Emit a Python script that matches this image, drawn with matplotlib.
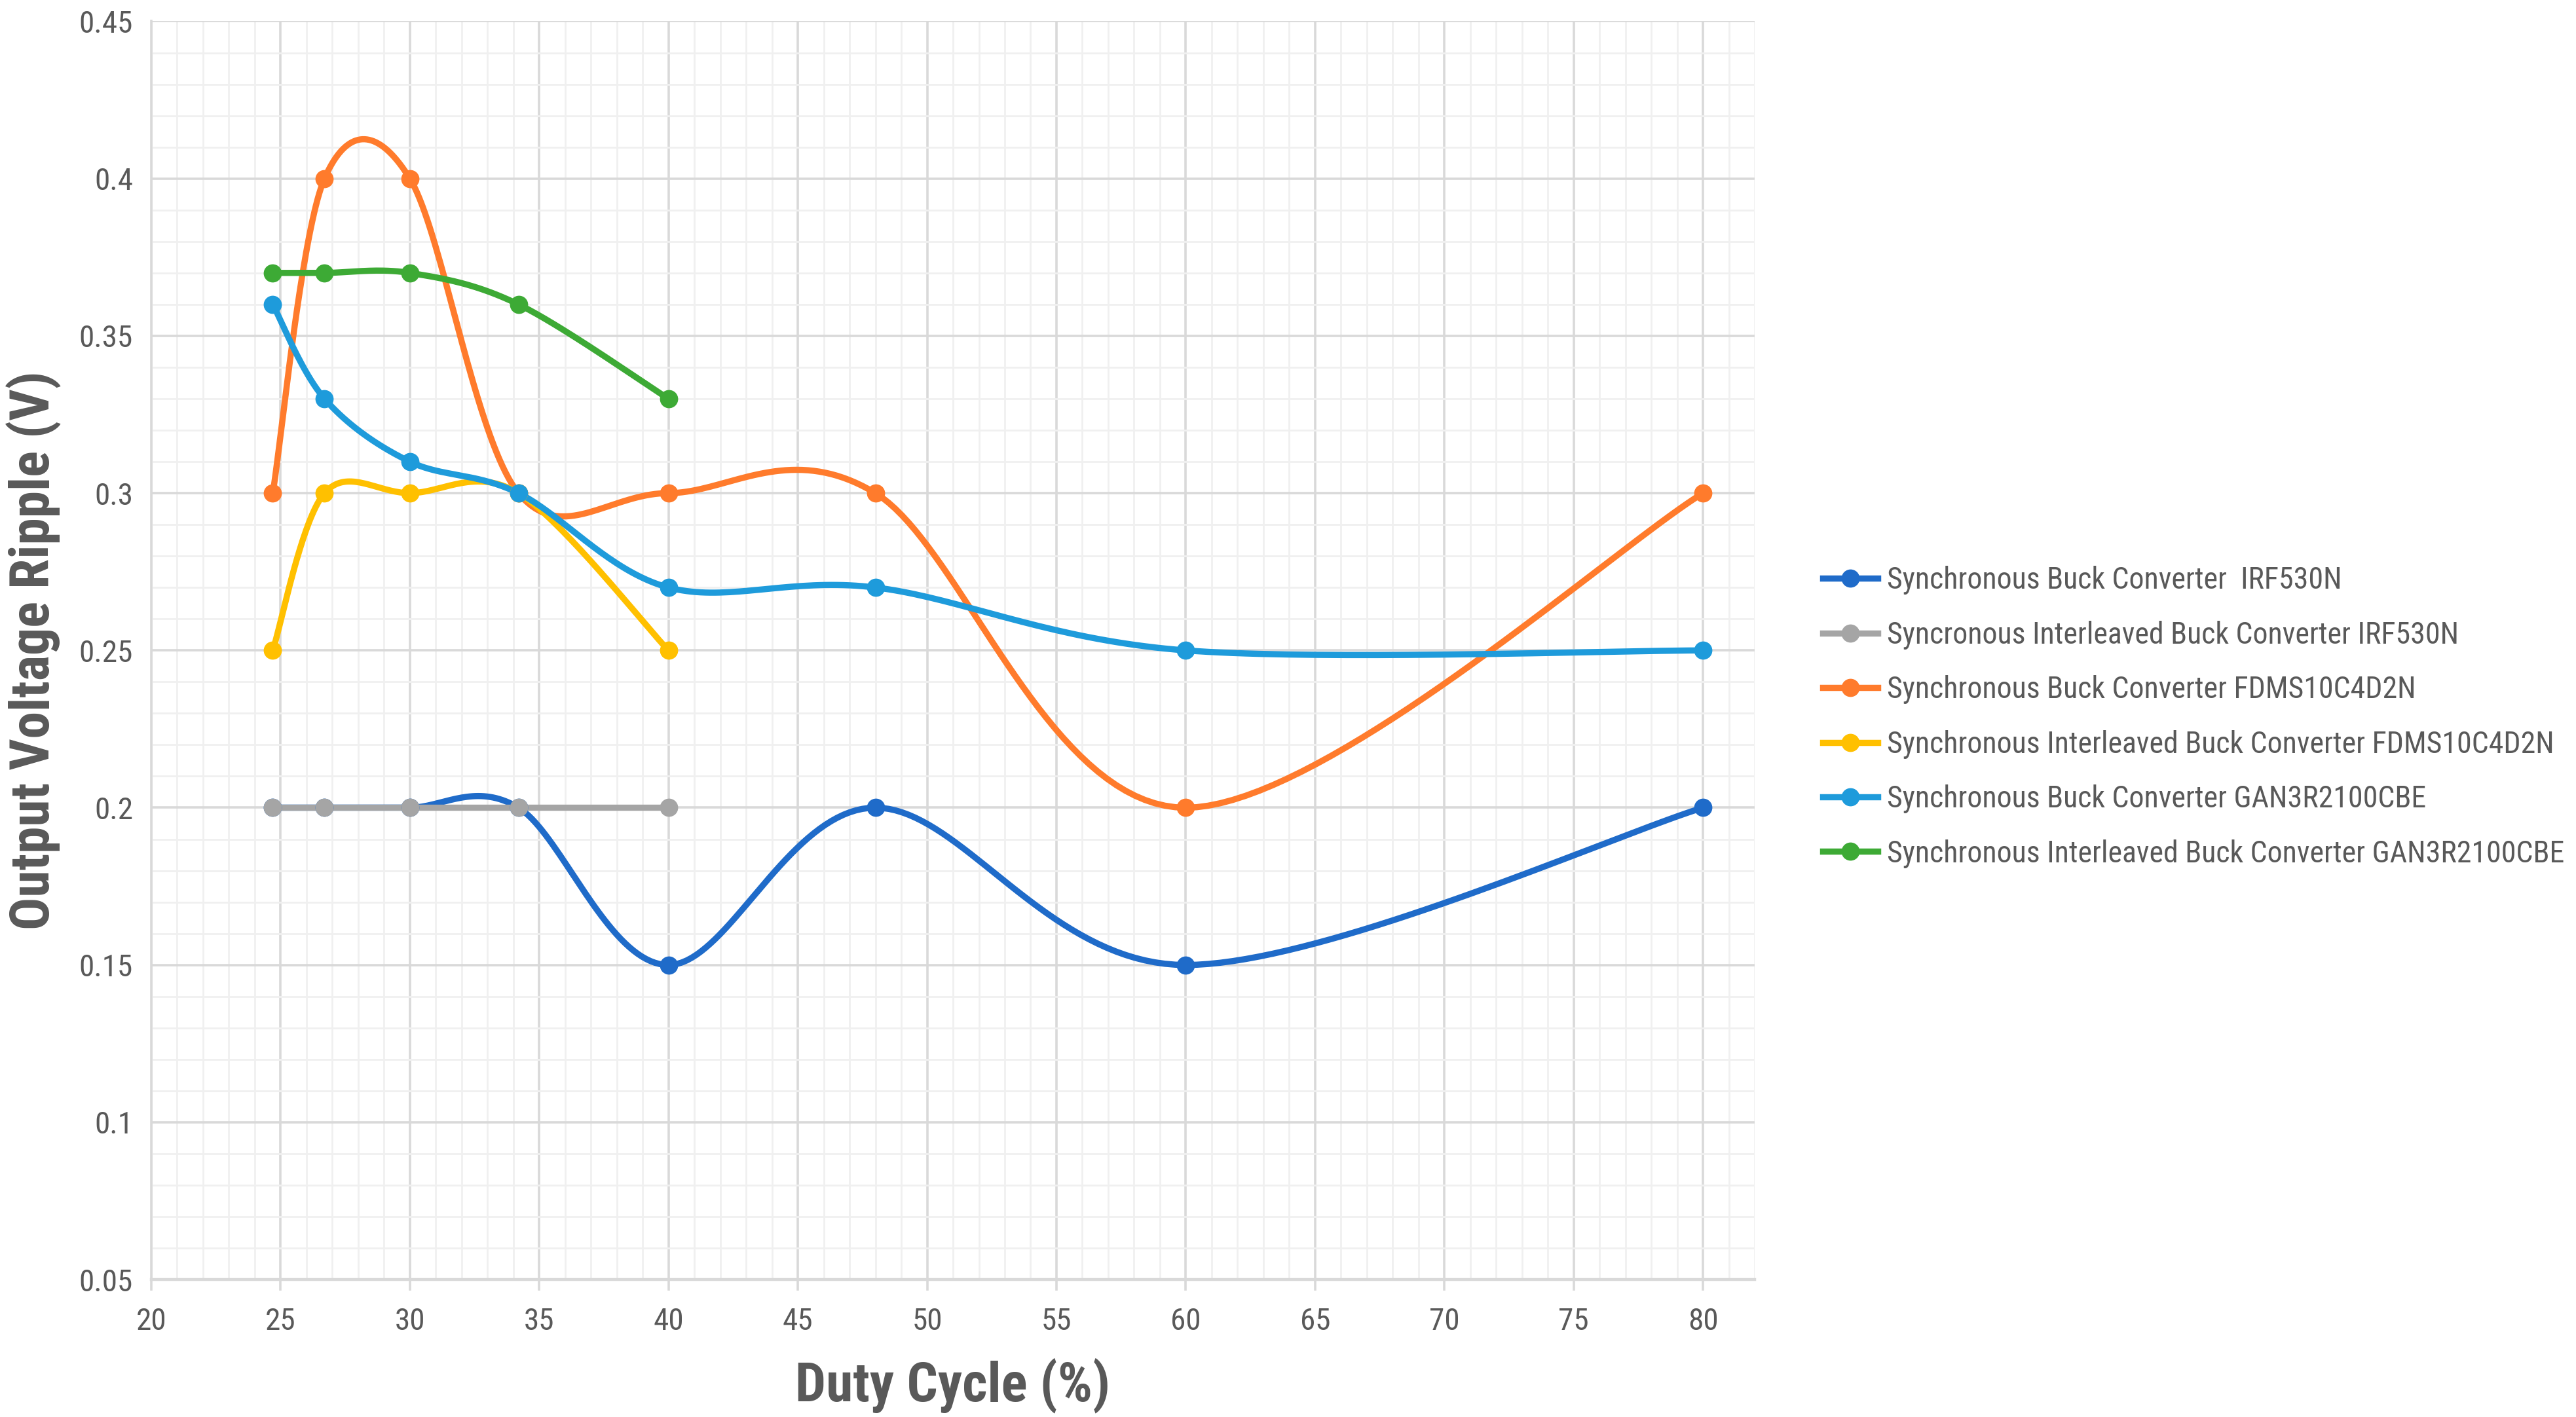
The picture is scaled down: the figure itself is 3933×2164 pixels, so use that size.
import matplotlib
matplotlib.use("Agg")
import matplotlib.pyplot as plt
import numpy as np
from matplotlib.ticker import MultipleLocator, FuncFormatter

# duty cycle points (%)
duty_full = [24.7, 26.7, 30, 34.2, 40, 48, 60, 80]
duty_short = [24.7, 26.7, 30, 34.2, 40]

# output voltage ripple (V)
sync_irf = [0.2, 0.2, 0.2, 0.2, 0.15, 0.2, 0.15, 0.2]
inter_irf = [0.2, 0.2, 0.2, 0.2, 0.2]
sync_fdms = [0.3, 0.4, 0.4, 0.3, 0.3, 0.3, 0.2, 0.3]
inter_fdms = [0.25, 0.3, 0.3, 0.3, 0.25]
sync_gan = [0.36, 0.33, 0.31, 0.3, 0.27, 0.27, 0.25, 0.25]
inter_gan = [0.37, 0.37, 0.37, 0.36, 0.33]

labels = [
    "Synchronous Buck Converter  IRF530N",
    "Syncronous Interleaved Buck Converter IRF530N",
    "Synchronous Buck Converter FDMS10C4D2N",
    "Synchronous Interleaved Buck Converter FDMS10C4D2N",
    "Synchronous Buck Converter GAN3R2100CBE",
    "Synchronous Interleaved Buck Converter GAN3R2100CBE",
]
colors = ["#1F6BC9", "#A5A5A5", "#FF7B2C", "#FFC000", "#1E9BDB", "#3DAA35"]


def smooth(x, y, n=40):
    """Excel style smoothed line: cubic bezier with catmull-rom tangents"""
    p = np.column_stack([x, y]).astype(float)
    out = [p[:1]]
    for i in range(len(p) - 1):
        p0 = p[max(i - 1, 0)]
        p1 = p[i]
        p2 = p[i + 1]
        p3 = p[min(i + 2, len(p) - 1)]
        c1 = p1 + (p2 - p0) / 6
        c2 = p2 - (p3 - p1) / 6
        t = np.linspace(0, 1, n)[1:, None]
        seg = ((1 - t) ** 3) * p1 + 3 * ((1 - t) ** 2) * t * c1 \
            + 3 * (1 - t) * t ** 2 * c2 + t ** 3 * p2
        out.append(seg)
    pts = np.vstack(out)
    return pts[:, 0], pts[:, 1]


plt.rcParams['font.family'] = ['Roboto Condensed', 'Lato', 'DejaVu Sans']
text_color = "#595959"

fig = plt.figure(figsize=(19.665, 10.82), dpi=200)
ax = fig.add_axes([0.0587, 0.097, 0.6225, 0.888])

series = [
    (duty_full, sync_irf),
    (duty_short, inter_irf),
    (duty_full, sync_fdms),
    (duty_short, inter_fdms),
    (duty_full, sync_gan),
    (duty_short, inter_gan),
]

for (xs, ys), lab, col in zip(series, labels, colors):
    sx, sy = smooth(xs, ys)
    ax.plot(sx, sy, color=col, lw=3.4, solid_capstyle='round', zorder=3)
    ax.plot(xs, ys, 'o', color=col, ms=9, zorder=4)
    # legend proxy
    ax.plot([], [], '-o', color=col, lw=3.4, ms=9, label=lab)

ax.set_xlim(20, 82)
ax.set_ylim(0.05, 0.45)
ax.xaxis.set_major_locator(MultipleLocator(5))
ax.xaxis.set_minor_locator(MultipleLocator(1))
ax.yaxis.set_major_locator(MultipleLocator(0.05))
ax.yaxis.set_minor_locator(MultipleLocator(0.01))
ax.yaxis.set_major_formatter(FuncFormatter(lambda v, p: "{:g}".format(round(v, 2))))

ax.grid(which='major', color='#D9D9D9', lw=1.3)
ax.grid(which='minor', color='#F0F0F0', lw=1.0)
ax.set_axisbelow(True)

for s in ['top', 'right']:
    ax.spines[s].set_visible(False)
ax.spines['left'].set_color('#D9D9D9')
ax.spines['bottom'].set_color('#D9D9D9')
ax.spines['left'].set_linewidth(1.3)
ax.spines['bottom'].set_linewidth(1.6)

ax.tick_params(axis='x', which='major', length=6, color='#D9D9D9', width=1.3,
               labelsize=17, labelcolor=text_color, pad=9)
ax.tick_params(axis='x', which='minor', length=0)
ax.tick_params(axis='y', which='both', length=0, labelsize=17,
               labelcolor=text_color, pad=10)

ax.set_xlabel("Duty Cycle (%)", fontsize=30, fontweight='bold', color=text_color, labelpad=12)
ax.set_ylabel("Output Voltage Ripple (V)", fontsize=30, fontweight='bold', color=text_color, labelpad=10)

leg = fig.legend(loc='center left', bbox_to_anchor=(0.697, 0.494), frameon=False,
                 fontsize=16.5, handlelength=1.85, handletextpad=0.3, labelspacing=0.86)
for t in leg.get_texts():
    t.set_color(text_color)

fig.savefig("out.png", dpi=200)
